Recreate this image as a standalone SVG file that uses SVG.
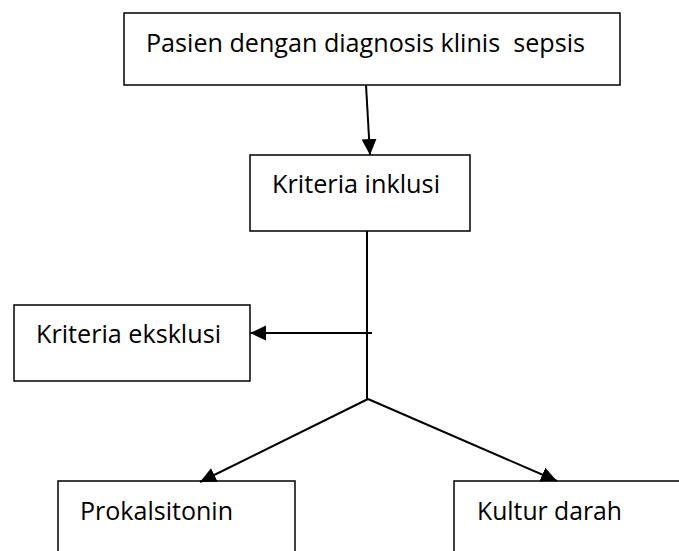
<svg xmlns="http://www.w3.org/2000/svg" width="679" height="551" viewBox="0 0 679 551">
<style>
.box{fill:#fff;stroke:#000;stroke-width:1.5}
.lbl{font-family:"Open Sans","Noto Sans",sans-serif;font-size:26px;fill:#000;white-space:pre}
.con{stroke:#000;stroke-width:2;fill:none}
</style>
<defs>
<marker id="ah" markerUnits="userSpaceOnUse" markerWidth="17" markerHeight="16" refX="16" refY="8" orient="auto">
<path d="M0,0.5 L16,8 L0,15.5 z" fill="#000"/>
</marker>
</defs>
<rect width="679" height="551" fill="#fff"/>
<g id="n-pasien">
<rect class="box" x="124" y="13" width="496" height="72"/>
<text class="lbl" x="146" y="52" textLength="439" lengthAdjust="spacingAndGlyphs">Pasien dengan diagnosis klinis  sepsis</text>
</g>
<g id="n-inklusi">
<rect class="box" x="250" y="155" width="220" height="76"/>
<text class="lbl" x="272" y="193" textLength="168" lengthAdjust="spacingAndGlyphs">Kriteria inklusi</text>
</g>
<g id="n-eksklusi">
<rect class="box" x="14" y="305" width="236" height="76"/>
<text class="lbl" x="36" y="343" textLength="185" lengthAdjust="spacingAndGlyphs">Kriteria eksklusi</text>
</g>
<g id="n-prokalsitonin">
<rect class="box" x="58" y="481" width="237" height="80"/>
<text class="lbl" x="80" y="520" textLength="153" lengthAdjust="spacingAndGlyphs">Prokalsitonin</text>
</g>
<g id="n-kultur">
<rect class="box" x="454" y="481" width="240" height="80"/>
<text class="lbl" x="477" y="520" textLength="145" lengthAdjust="spacingAndGlyphs">Kultur darah</text>
</g>
<g id="connectors">
<line class="con" x1="366" y1="85" x2="370" y2="155" marker-end="url(#ah)"/>
<line class="con" x1="367" y1="231" x2="367" y2="399"/>
<line class="con" x1="372" y1="333" x2="250" y2="333" marker-end="url(#ah)"/>
<line class="con" x1="368" y1="399" x2="200" y2="482" marker-end="url(#ah)"/>
<line class="con" x1="368" y1="399" x2="557" y2="481" marker-end="url(#ah)"/>
</g>
</svg>
